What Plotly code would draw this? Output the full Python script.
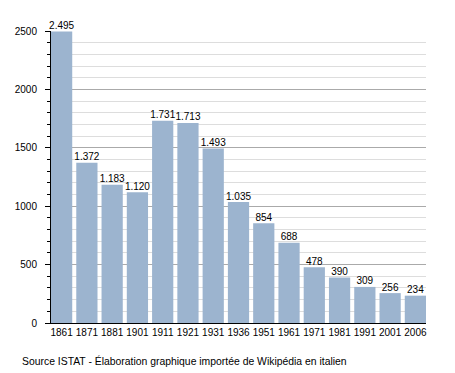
import plotly.graph_objects as go

years = ["1861", "1871", "1881", "1901", "1911", "1921", "1931", "1936",
         "1951", "1961", "1971", "1981", "1991", "2001", "2006"]
population = [2495, 1372, 1183, 1120, 1731, 1713, 1493, 1035,
              854, 688, 478, 390, 309, 256, 234]

FONT = "Liberation Sans, Arial, sans-serif"
FS = 10

fig = go.Figure()
fig.add_trace(go.Bar(
    x=years, y=population,
    marker=dict(color="#9cb4cf", line=dict(width=0)),
    width=0.84, hoverinfo="skip",
))
fig.add_trace(go.Scatter(
    x=years, y=population, mode="text",
    texttemplate="%{y:,}", textposition="top center",
    textfont=dict(family=FONT, size=FS, color="black"),
    cliponaxis=False, hoverinfo="skip",
))

# page body has an 8px margin, so the figure is shrunk and shifted to match
fig.update_layout(
    width=447, height=365,
    margin=dict(l=43, r=29, t=23, b=50),
    paper_bgcolor="white", plot_bgcolor="white",
    separators=",.",
    showlegend=False,
    font=dict(family=FONT, size=FS, color="black"),
    annotations=[dict(
        text="Source ISTAT - Élaboration graphique importée de Wikipédia en italien",
        xref="paper", yref="paper", x=-31 / 375, y=-38 / 292,
        xanchor="left", yanchor="middle", showarrow=False,
        font=dict(family=FONT, size=10.4, color="black"),
    )],
)

fig.update_xaxes(
    type="category", range=[-0.42, 14.42], automargin=False,
    showline=True, linecolor="black", linewidth=1,
    ticks="", showgrid=False, tickangle=0,
    tickfont=dict(family=FONT, size=FS, color="black"),
)

fig.update_yaxes(
    range=[0, 2500], dtick=500, tickformat="d", automargin=False,
    showline=True, linecolor="black", linewidth=1,
    ticks="outside", ticklen=5, tickcolor="black",
    ticklabelstandoff=6,
    showgrid=True, gridcolor="#aaaaaa", gridwidth=1,
    zeroline=False,
    minor=dict(dtick=100, showgrid=True, gridcolor="#dddddd",
               ticks="outside", ticklen=3, tickcolor="black"),
    tickfont=dict(family=FONT, size=FS, color="black"),
)

fig.write_html("out.html")
